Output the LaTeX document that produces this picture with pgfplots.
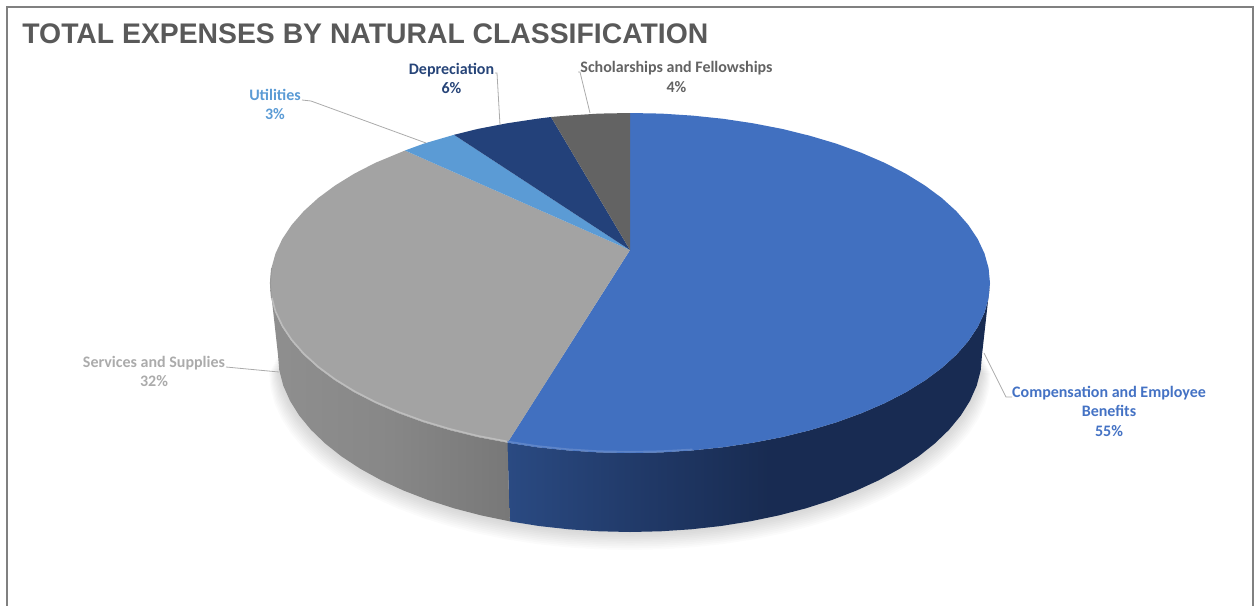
\documentclass[border=0pt]{standalone}
\usepackage{fontspec}
\usepackage{pgfplots}
\usepackage{pgfplotstable}
\pgfplotsset{compat=1.18}
\setmainfont{Carlito}
\newfontfamily\titlefont{Liberation Sans}
\definecolor{cblue}{HTML}{4170C0}
\definecolor{cgrey}{HTML}{A3A3A3}
\definecolor{cutil}{HTML}{5B9BD5}
\definecolor{cdep}{HTML}{23417A}
\definecolor{csch}{HTML}{636363}
\definecolor{lblue}{HTML}{4472C4}
\definecolor{ldep}{HTML}{264478}
\definecolor{lgrey}{HTML}{ABABAB}
\definecolor{lsch}{HTML}{636363}
\definecolor{leader}{HTML}{ABABAB}
\pgfdeclarehorizontalshading{blueside}{100bp}{rgb(0bp)=(0.165,0.29,0.51); rgb(25bp)=(0.165,0.29,0.51); rgb(40bp)=(0.125,0.22,0.40); rgb(52bp)=(0.095,0.17,0.32); rgb(100bp)=(0.095,0.17,0.32)}
\pgfdeclarehorizontalshading{greyside}{100bp}{rgb(0bp)=(0.56,0.56,0.56); rgb(25bp)=(0.56,0.56,0.56); rgb(50bp)=(0.53,0.53,0.53); rgb(75bp)=(0.47,0.47,0.47); rgb(100bp)=(0.47,0.47,0.47)}
% lower outline of the pie (pixel coordinates of the reference)
\pgfplotstableread{
x y
982 355
980.7 370.4
976.7 385.7
970 400.8
960.8 415.5
949 429.8
934.8 443.5
918.4 456.5
899.6 468.8
878.9 480.2
856.3 490.6
831.9 500
806 508.3
778.8 515.4
750.4 521.3
721.1 526
691.1 529.3
660.7 531.3
630 532
599.3 531.3
568.9 529.3
538.9 526
509.6 521.3
481.2 515.4
454 508.3
428.1 500
403.7 490.6
381.1 480.2
360.4 468.8
341.6 456.5
325.2 443.5
311 429.8
299.2 415.5
290 400.8
283.3 385.7
279.3 370.4
278 355
}\lowerrim
\begin{document}
\begin{tikzpicture}
\begin{axis}[
  scale only axis, width=627.5pt, height=303pt,
  xmin=0, xmax=1255, ymin=0, ymax=606, y dir=reverse,
  hide axis, clip=true]
% page extent
\path (axis cs:0,0) (axis cs:1255,606);
% frame
\addplot[draw=black!50, line width=1pt] coordinates {(7,606) (7,7) (1253,7) (1253,606)};
% soft shadow
\pgfplotsinvokeforeach{1,...,10}{
  \addplot[draw=none, fill=black, fill opacity=0.014]
    table[x expr={630+(\thisrow{x}-630)*(1+0.0025*#1)}, y expr={\thisrow{y}+1.8*#1}] {\lowerrim};
}
% side faces
\addplot[draw=none, shading=blueside] coordinates {
(990,283)(988.6,297.8)(984.5,312.5)(977.7,327)(968.3,341.1)(956.3,354.8)(941.8,368)(924.9,380.5)(905.8,392.3)(884.6,403.2)(861.4,413.2)(836.5,422.3)(810,430.2)(782.1,437.1)(753.1,442.7)(723.2,447.2)(692.5,450.4)(661.4,452.4)(630,453)(598.6,452.4)(567.5,450.4)(536.8,447.2)(507.5,442.7)
(509.6,521.3)(538.9,526)(568.9,529.3)(599.3,531.3)(630,532)(660.7,531.3)(691.1,529.3)(721.1,526)(750.4,521.3)(778.8,515.4)(806,508.3)(831.9,500)(856.3,490.6)(878.9,480.2)(899.6,468.8)(918.4,456.5)(934.8,443.5)(949,429.8)(960.8,415.5)(970,400.8)(976.7,385.7)(980.7,370.4)(982,355)
};
\addplot[draw=none, shading=greyside] coordinates {
(507.5,442.7)(477.9,437.1)(450,430.2)(423.5,422.3)(398.6,413.2)(375.4,403.2)(354.2,392.3)(335.1,380.5)(318.2,368)(303.7,354.8)(291.7,341.1)(282.3,327)(275.5,312.5)(271.4,297.8)(270,283)
(278,355)(279.3,370.4)(283.3,385.7)(290,400.8)(299.2,415.5)(311,429.8)(325.2,443.5)(341.6,456.5)(360.4,468.8)(381.1,480.2)(403.7,490.6)(428.1,500)(454,508.3)(481.2,515.4)(509.6,521.3)
};
% 55% Compensation and Employee Benefits
\addplot[draw=none, fill=cblue] coordinates {
(630,250)(630,113)(661.4,113.6)(692.5,115.6)(723.2,118.8)(753.1,123.3)(782.1,128.9)(810,135.8)(836.5,143.7)(861.4,152.8)(884.6,162.8)(905.8,173.7)(924.9,185.5)(941.8,198)(956.3,211.2)(968.3,224.9)(977.7,239)(984.5,253.5)(988.6,268.2)(990,283)(988.6,297.8)(984.5,312.5)(977.7,327)(968.3,341.1)(956.3,354.8)(941.8,368)(924.9,380.5)(905.8,392.3)(884.6,403.2)(861.4,413.2)(836.5,422.3)(810,430.2)(782.1,437.1)(753.1,442.7)(723.2,447.2)(692.5,450.4)(661.4,452.4)(630,453)(598.6,452.4)(567.5,450.4)(536.8,447.2)(507.5,442.7)
};
% 32% Services and Supplies
\addplot[draw=none, fill=cgrey] coordinates {
(630,250)(507.5,442.7)(477.9,437.1)(450,430.2)(423.5,422.3)(398.6,413.2)(375.4,403.2)(354.2,392.3)(335.1,380.5)(318.2,368)(303.7,354.8)(291.7,341.1)(282.3,327)(275.5,312.5)(271.4,297.8)(270,283)(271.4,268.2)(275.5,253.5)(282.3,239)(291.7,224.9)(303.7,211.2)(318.2,198)(335.1,185.5)(354.2,173.7)(375.4,162.8)(405,150.5)
};
% 3% Utilities
\addplot[draw=none, fill=cutil] coordinates {(630,250)(405,150.5)(423.5,143.7)(454,134.8)};
% 6% Depreciation
\addplot[draw=none, fill=cdep] coordinates {(630,250)(454,134.8)(477.9,128.9)(506.9,123.3)(536.8,118.8)(551,117)};
% 4% Scholarships and Fellowships
\addplot[draw=none, fill=csch] coordinates {(630,250)(551,117)(567.5,115.6)(598.6,113.6)(630,113)};
% rim highlights
\addplot[draw=black!26, line width=0.8pt, line join=round] coordinates {
(507.5,441.5)(477.9,435.9)(450,429)(423.5,421.1)(398.6,412)(375.4,402)(354.2,391.1)(335.1,379.3)(318.2,366.8)(303.7,353.6)(291.7,339.9)(282.3,325.8)(275.5,311.3)(271.8,297.8)};
\addplot[draw=black!40, line width=0.5pt] coordinates {(271.4,297.8)(270.4,283)(271.6,268.2)};
\addplot[draw=cblue!85!white, line width=0.8pt] coordinates {
(507.5,441.5)(536.8,446)(567.5,449.2)(598.6,451.2)(630,451.8)(661.4,451.2)(692.5,449.4)};
% leader lines
\addplot[draw=leader, line width=0.4pt] coordinates {(984,353)(1006,397)(1012,397)};
\addplot[draw=leader, line width=0.4pt] coordinates {(226,367)(279,372)};
\addplot[draw=leader, line width=0.4pt] coordinates {(302,100)(311,101)(426,143)};
\addplot[draw=leader, line width=0.4pt] coordinates {(495,73)(497,73)(500,125)};
\addplot[draw=leader, line width=0.4pt] coordinates {(578,72)(580,72)(590,113)};
% labels
\node[anchor=west, inner sep=0pt, text=black!65] at (axis cs:22,33.5) {\titlefont\bfseries\fontsize{14.17}{16}\selectfont TOTAL EXPENSES BY NATURAL CLASSIFICATION};
\tikzset{lbl/.style={align=center, inner sep=0pt, font=\fontsize{8}{9.75}\selectfont\bfseries}}
\node[lbl, text=lblue] at (axis cs:1109,411) {Compensation and Employee\\Benefits\\55\%};
\node[lbl, text=lgrey] at (axis cs:154,371.5) {Services and Supplies\\32\%};
\node[lbl, text=cutil] at (axis cs:275,104.5) {Utilities\\3\%};
\node[lbl, text=ldep] at (axis cs:451.5,78.5) {Depreciation\\6\%};
\node[lbl, text=lsch] at (axis cs:676.5,77) {Scholarships and Fellowships\\4\%};
\end{axis}
\end{tikzpicture}
\end{document}
